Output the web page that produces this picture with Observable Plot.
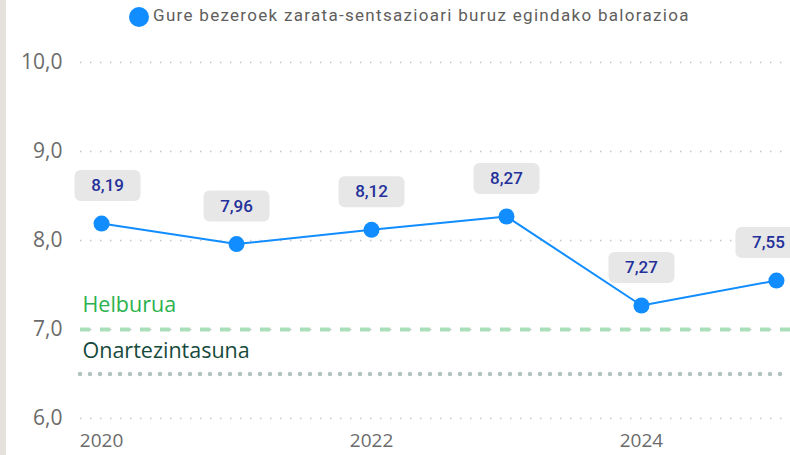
<!DOCTYPE html>
<html>
<head>
<meta charset="utf-8">
<script src="https://cdn.jsdelivr.net/npm/d3@7"></script>
<script src="https://cdn.jsdelivr.net/npm/@observablehq/plot@0.6"></script>
<style>
  html, body { margin: 0; padding: 0; background: #fff; }
  #wrap { position: relative; width: 790px; height: 455px; overflow: hidden; font-family: "Open Sans", sans-serif; }
  #strip { position: absolute; left: 0; top: 0; width: 6px; height: 455px; background: #e5e2dc; }
  #legend { position: relative; height: 36px; }
  #legend .sw { position: absolute; left: 129px; top: 7px; width: 20px; height: 20px; border-radius: 50%; background: #118dff; }
  #legend .lb { position: absolute; left: 153px; top: 5px; font-family: "Roboto", sans-serif; font-size: 17px; color: #605e5c; letter-spacing: 1.3px; white-space: nowrap; }
  #chart svg { display: block; }
</style>
</head>
<body>
<div id="wrap">
  <div id="legend"><span class="sw"></span><span class="lb" id="legendText"></span></div>
  <div id="chart"></div>
  <div id="strip"></div>
</div>
<script>
const seriesName = "Gure bezeroek zarata-sentsazioari buruz egindako balorazioa";
const years = [2020, 2021, 2022, 2023, 2024, 2025];
const values = [8.19, 7.96, 8.12, 8.27, 7.27, 7.55];
const yTicks = [6, 7, 8, 9, 10];
const xTicks = [2020, 2022, 2024];
const targetLabel = "Helburua";
const targetValue = 7.0;
const thresholdLabel = "Onartezintasuna";
const thresholdValue = 6.5;

document.getElementById("legendText").textContent = seriesName;

const data = years.map((y, i) => ({year: y, value: values[i]}));
const comma = (v, n) => v.toFixed(n).replace(".", ",");

const boxSymbol = {
  draw(ctx) {
    const w = 66, h = 31, r = 6;
    const x0 = -w / 2, y0 = -h / 2, x1 = w / 2, y1 = h / 2;
    ctx.moveTo(x0 + r, y0);
    ctx.lineTo(x1 - r, y0);
    ctx.arcTo(x1, y0, x1, y0 + r, r);
    ctx.lineTo(x1, y1 - r);
    ctx.arcTo(x1, y1, x1 - r, y1, r);
    ctx.lineTo(x0 + r, y1);
    ctx.arcTo(x0, y1, x0, y1 - r, r);
    ctx.lineTo(x0, y0 + r);
    ctx.arcTo(x0, y0, x0 + r, y0, r);
    ctx.closePath();
  }
};

// labels: first and last are nudged inward to stay inside the frame
const first = data.slice(0, 1), middle = data.slice(1, -1), last = data.slice(-1);
const labelMarks = (subset, dx) => [
  Plot.dot(subset, {x: "year", y: "value", dx, dy: -38, symbol: boxSymbol, fill: "#e7e7e7", stroke: "none"}),
  Plot.text(subset, {x: "year", y: "value", dx, dy: -38, text: d => comma(d.value, 2), fill: "#24309a", fontSize: 17, fontWeight: 500, fontFamily: "Roboto, sans-serif", letterSpacing: "0.5px"})
];

const chart = Plot.plot({
  width: 790,
  height: 419,
  marginLeft: 80,
  marginRight: 0,
  marginTop: 26,
  marginBottom: 37,
  style: {fontFamily: "'Open Sans', sans-serif", background: "transparent", overflow: "visible"},
  x: {domain: [2019.844, 2025.104]},
  y: {domain: [6, 10]},
  marks: [
    Plot.ruleY(yTicks, {stroke: "#c6c6c6", strokeWidth: 1.5, strokeDasharray: "1.5,8.5"}),
    Plot.ruleY([targetValue], {stroke: "#a9dfb8", strokeWidth: 4, strokeDasharray: "10,10"}),
    Plot.ruleY([thresholdValue], {stroke: "#b1c3c0", strokeWidth: 4.5, strokeLinecap: "round", strokeDasharray: "0,10"}),
    Plot.text([{label: targetLabel, v: targetValue}], {y: "v", text: "label", frameAnchor: "left", textAnchor: "start", dx: 2, dy: -24, fill: "#2bb24e", fontSize: 21.5}),
    Plot.text([{label: thresholdLabel, v: targetValue}], {y: "v", text: "label", frameAnchor: "left", textAnchor: "start", dx: 2, dy: 22, fill: "#164a3c", fontSize: 21.5}),
    Plot.axisY({ticks: yTicks, tickFormat: d => comma(d, 1), tickSize: 0, tickPadding: 18, fontSize: 21, fill: "#6b6b6b", label: null}),
    Plot.axisX({ticks: xTicks, tickFormat: d => String(d), tickSize: 0, tickPadding: 15, fontSize: 19, fill: "#6b6b6b", label: null}),
    Plot.line(data, {x: "year", y: "value", stroke: "#118dff", strokeWidth: 2}),
    Plot.dot(data, {x: "year", y: "value", r: 8, fill: "#118dff", stroke: "none"}),
    ...labelMarks(first, 6),
    ...labelMarks(middle, 0),
    ...labelMarks(last, -8)
  ]
});
document.getElementById("chart").appendChild(chart);
</script>
</body>
</html>
